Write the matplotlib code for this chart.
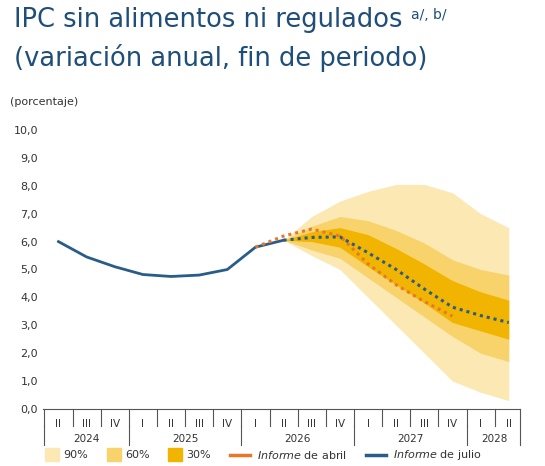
import matplotlib.pyplot as plt
import numpy as np

quarters = ["II", "III", "IV", "I", "II", "III", "IV", "I", "II", "III", "IV",
            "I", "II", "III", "IV", "I", "II"]
years = ["2024", "2025", "2026", "2027", "2028"]
year_span = [(0, 2), (3, 6), (7, 10), (11, 14), (15, 16)]

hist = [6.0, 5.45, 5.1, 4.82, 4.75, 4.8, 5.0, 5.8, 6.05]
julio = [6.05, 6.15, 6.17, 5.6, 5.0, 4.3, 3.65, 3.35, 3.1]   # from 2026 II
abril = [5.8, 6.2, 6.45, 6.2, 5.2, 4.45, 3.85, 3.33]          # from 2026 I

# fan, from 2026 II to 2028 II
f90_hi = [6.05, 6.9, 7.45, 7.8, 8.05, 8.05, 7.75, 7.0, 6.5]
f90_lo = [6.05, 5.5, 5.0, 4.0, 3.0, 2.0, 1.0, 0.6, 0.3]
f60_hi = [6.05, 6.55, 6.9, 6.75, 6.4, 5.95, 5.35, 5.0, 4.8]
f60_lo = [6.05, 5.7, 5.4, 4.7, 4.0, 3.3, 2.6, 2.0, 1.7]
f30_hi = [6.05, 6.35, 6.5, 6.25, 5.75, 5.2, 4.6, 4.2, 3.9]
f30_lo = [6.05, 6.0, 5.8, 5.1, 4.45, 3.8, 3.1, 2.8, 2.5]

c90, c60, c30 = "#FCE8B2", "#F8D36C", "#F1B400"
blue, orange, navy = "#2A5C8A", "#E8772A", "#1F4E79"

fig = plt.figure(figsize=(5.45, 4.66), dpi=100)
ax = fig.add_axes([43 / 545, 57 / 466, 477 / 545, 279 / 466])

xf = np.arange(8, 17)
ax.fill_between(xf, f90_lo, f90_hi, color=c90, lw=0)
ax.fill_between(xf, f60_lo, f60_hi, color=c60, lw=0)
ax.fill_between(xf, f30_lo, f30_hi, color=c30, lw=0)

ax.plot(np.arange(len(hist)), hist, color=blue, lw=2)
ax.plot(np.arange(7, 7 + len(abril)), abril, color=orange, lw=2.2, ls=(0, (1, 1.3)))
ax.plot(xf, julio, color=blue, lw=2.2, ls=(0, (1, 1.3)))

ax.set_xlim(-0.55, 16.4)
ax.set_ylim(0, 10)
ax.set_yticks(np.arange(0, 10.5, 1))
ax.set_yticklabels([f"{v:.1f}".replace(".", ",") for v in np.arange(0, 10.5, 1)],
                   fontsize=8, color="#333333")
ax.tick_params(axis="y", length=0)
ax.set_xticks([])
for s in ["top", "right", "left"]:
    ax.spines[s].set_visible(False)
ax.spines["bottom"].set_color("#555555")

tr = ax.get_xaxis_transform()
for i, q in enumerate(quarters):
    ax.text(i, -0.035, q, transform=tr, ha="center", va="top", fontsize=7.5, color="#333333")
    ax.plot([i - 0.5, i - 0.5], [0, -0.06], transform=tr, color="#555555", lw=0.8, clip_on=False)
ax.plot([16.4, 16.4], [0, -0.13], transform=tr, color="#555555", lw=0.8, clip_on=False)
for y, (a, b) in zip(years, year_span):
    ax.text((a + b) / 2, -0.09, y, transform=tr, ha="center", va="top", fontsize=7.5, color="#333333")
    ax.plot([a - 0.5, a - 0.5], [-0.06, -0.13], transform=tr, color="#555555", lw=0.8, clip_on=False)

fig.text(14 / 545, 1 - 7 / 466, "IPC sin alimentos ni regulados", fontsize=18.5, color=navy, va="top")
fig.text(411 / 545, 1 - 8 / 466, "a/, b/", fontsize=10, color=navy, va="top")
fig.text(14 / 545, 1 - 44 / 466, "(variación anual, fin de periodo)", fontsize=18.5, color=navy, va="top")
fig.text(10 / 545, 1 - 97 / 466, "(porcentaje)", fontsize=8, color="#333333", va="top")

ly = 1 - 455 / 466
items = [(45, c90, "90%"), (107, c60, "60%"), (168, c30, "30%")]
for x, c, t in items:
    fig.patches.append(plt.Rectangle((x / 545, ly - 0.012), 14 / 545, 0.026,
                                     transform=fig.transFigure, color=c))
    fig.text((x + 18) / 545, ly, t, fontsize=8, va="center", color="#333333")
fig.add_artist(plt.Line2D([230 / 545, 250 / 545], [ly, ly], color=orange, lw=2.5))
fig.text(257 / 545, ly, "$\\it{Informe}$ de abril", fontsize=8, va="center", color="#333333")
fig.add_artist(plt.Line2D([366 / 545, 386 / 545], [ly, ly], color=blue, lw=2.5))
fig.text(393 / 545, ly, "$\\it{Informe}$ de julio", fontsize=8, va="center", color="#333333")

fig.savefig("out.png", dpi=100)
